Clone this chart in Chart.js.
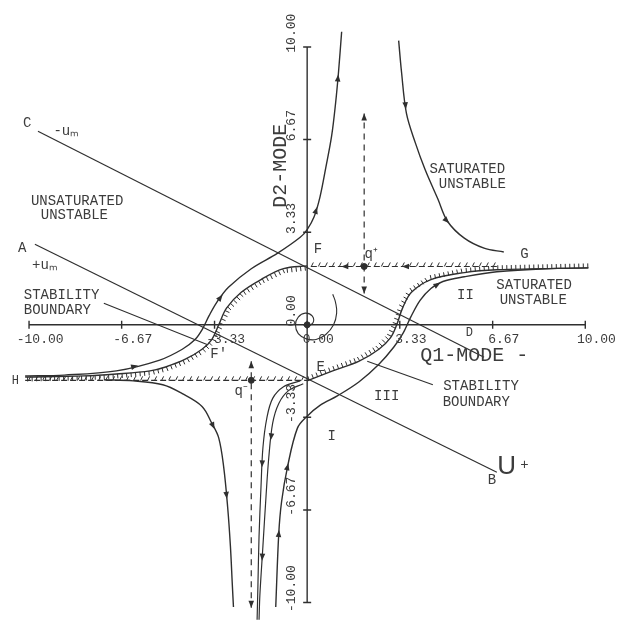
<!DOCTYPE html>
<html>
<head>
<meta charset="utf-8">
<script src="https://cdn.jsdelivr.net/npm/chart.js@4"></script>
<style>
  html, body { margin: 0; padding: 0; background: #fff; }
  #wrap { width: 626px; height: 631px; }
</style>
</head>
<body>
<div id="wrap"><canvas id="phase"></canvas></div>
<script>
// tick values and labels for both modes
const ticks = [-10, -6.67, -3.33, 0, 3.33, 6.67, 10];
const q1TickLabels = ["-10.00", "-6.67", "-3.33", "0.00", "3.33", "6.67", "10.00"];
const q2TickLabels = ["-10.00", "-6.67", "-3.33", "0.00", "3.33", "6.67", "10.00"];

// trajectories, each point is [q1, q2]
const sepUpper = [[-10.14, -1.84], [-8.73, -1.81], [-6.86, -1.66], [-5.30, -1.27], [-4.49, -0.88],
  [-4.03, -0.53], [-3.78, -0.18], [-3.53, 0.32], [-3.25, 0.81], [-2.83, 1.35], [-2.01, 2.02],
  [-1.06, 2.58], [-0.25, 3.15], [0, 3.43], [0.25, 3.89], [0.46, 4.60], [0.67, 5.66], [0.88, 6.80],
  [1.02, 7.96], [1.13, 9.13], [1.24, 10.55]];
const sepLower = [[-1.13, -10.16], [-1.02, -7.50], [-0.92, -6.37], [-0.71, -5.13], [-0.35, -3.72],
  [0, -3.29], [0.46, -2.90], [1.10, -2.55], [1.87, -2.05], [2.58, -1.42], [3.11, -0.81],
  [3.46, -0.28], [3.71, 0.25], [4.06, 0.88], [4.45, 1.31], [4.88, 1.56], [5.65, 1.73],
  [6.82, 1.91], [8.59, 2.02], [10.11, 2.05]];
const satUpper = [[3.29, 10.23], [3.39, 9.13], [3.57, 7.61], [3.89, 6.55], [4.24, 5.59],
  [4.70, 4.53], [5.05, 3.72], [5.65, 3.12], [6.36, 2.76], [7.07, 2.62]];
const satLower = [[-7.31, -1.98], [-6.25, -2.02], [-5.19, -2.16], [-4.49, -2.48], [-3.78, -2.94],
  [-3.43, -3.54], [-3.18, -4.07], [-3.00, -5.13], [-2.86, -6.55], [-2.76, -7.96], [-2.69, -9.38],
  [-2.65, -10.16]];
const trajA = [[-0.25, -2.02], [-0.85, -2.23], [-1.24, -2.65], [-1.45, -3.36], [-1.59, -4.42],
  [-1.66, -5.84], [-1.73, -7.61], [-1.77, -9.38], [-1.80, -10.62]];
const trajB = [[-0.14, -2.12], [-0.67, -2.37], [-1.02, -2.83], [-1.24, -3.54], [-1.38, -4.78],
  [-1.48, -6.19], [-1.59, -7.96], [-1.70, -9.73], [-1.73, -10.62]];
const spiral = [[0, -0.04], [0.21, 0.07], [0.18, 0.32], [-0.07, 0.42], [-0.32, 0.28], [-0.42, 0],
  [-0.32, -0.32], [-0.04, -0.50], [0.32, -0.53], [0.67, -0.35], [0.95, 0], [1.06, 0.42],
  [1.02, 0.81], [0.92, 1.10]];

// stability boundaries leaving the saddles F and E
const boundLeft = [[0, 2.12], [-0.85, 2.02], [-1.66, 1.63], [-2.37, 1.17], [-2.90, 0.60], [-3.18, 0],
  [-3.43, -0.53], [-3.78, -0.88], [-4.38, -1.24], [-5.09, -1.52], [-5.65, -1.66], [-6.86, -1.77],
  [-8.02, -1.84], [-10.14, -1.88]];
const boundRight = [[0, -2.02], [0.92, -1.66], [1.87, -1.31], [2.58, -0.88], [3.00, -0.46], [3.22, 0],
  [3.43, 0.60], [3.75, 1.17], [4.45, 1.63], [5.65, 1.88], [6.82, 1.98], [10.11, 2.05]];

// saturation lines, switching lines and equilibria
const satLineF = [[6.82, 2.1], [0, 2.1]];
const satLineH = [[-10.14, -2.0], [0, -2.0]];
const lineC = [[-9.68, 6.97], [6.36, -1.17]];
const lineA = [[-9.79, 2.90], [6.82, -5.31]];
const leaderLeft = [[-7.31, 0.78], [-3.60, -0.71]];
const leaderRight = [[2.16, -1.31], [4.52, -2.16]];
const qPlus = [[2.05, 1.13], [2.05, 7.61]];
const qMinus = [[-2.01, -1.31], [-2.01, -10.19]];
const equilibria = [[0, 0], [2.05, 2.1], [-2.01, -2.0]];

const INK = "#2f2f2f";
const TEXT = "#3c3c3c";

const xy = pts => pts.map(p => ({ x: p[0], y: p[1] }));
const curve = (pts, extra) => Object.assign({
  data: xy(pts), showLine: true, pointRadius: 0, borderColor: INK,
  borderWidth: 1.4, tension: 0.35, fill: false
}, extra || {});

const datasets = [
  // axes and their tick marks
  curve([[ticks[0], 0], [ticks[ticks.length - 1], 0]], { tension: 0 }),
  curve([[0, ticks[0]], [0, ticks[ticks.length - 1]]], { tension: 0 }),
  { data: ticks.map(t => ({ x: t, y: 0 })), pointStyle: "line", pointRadius: 4, pointRotation: 90,
    borderColor: INK, borderWidth: 1.4, showLine: false },
  { data: ticks.map(t => ({ x: 0, y: t })), pointStyle: "line", pointRadius: 4, pointRotation: 0,
    borderColor: INK, borderWidth: 1.4, showLine: false },

  curve(lineC, { tension: 0, borderWidth: 1.2 }),
  curve(lineA, { tension: 0, borderWidth: 1.2 }),
  curve(leaderLeft, { tension: 0, borderWidth: 1.1 }),
  curve(leaderRight, { tension: 0, borderWidth: 1.1 }),

  curve(sepUpper, { arrows: [[2, 0.5], [8, 0.5], [14, 0.5], [18, 0.9]] }),
  curve(sepLower, { arrows: [[1, 0.1], [3, 0.1], [14, 0.8]] }),
  curve(satUpper, { arrows: [[1, 0.9], [6, 0.1]] }),
  curve(satLower, { arrows: [[5, 0.4], [7, 0.8]] }),
  curve(trajA, { borderWidth: 1.2, arrows: [[4, 0.5]] }),
  curve(trajB, { borderWidth: 1.2, arrows: [[3, 0.5], [6, 0.3]] }),
  curve(spiral, { borderWidth: 1.1, tension: 0.45 }),

  curve(boundLeft, { hatch: { side: -1, step: 4.5, len: 4.5, slant: 0 } }),
  curve(boundRight, { hatch: { side: -1, step: 4.5, len: 4.5, slant: 0 } }),
  curve(satLineF, { tension: 0, borderDash: [6, 3], borderWidth: 1.2,
    hatch: { side: 1, step: 7, len: 4, slant: -2 }, arrows: [[0, 0.5], [0, 0.82]] }),
  curve(satLineH, { tension: 0, borderDash: [6, 3], borderWidth: 1.2,
    hatch: { side: -1, step: 7, len: 4, slant: 2 } }),

  curve(qPlus, { tension: 0, borderDash: [6, 5], borderWidth: 1.2, arrows: [[0, 1], [0, 0, true]] }),
  curve(qMinus, { tension: 0, borderDash: [6, 5], borderWidth: 1.2, arrows: [[0, 0, true], [0, 1]] }),

  { data: xy(equilibria), pointRadius: 3, pointStyle: "circle", backgroundColor: INK,
    borderColor: INK, showLine: false }
];

// text placed in q1/q2 units: [text, q1, q2, font]
const notes = [
  ["C", -10.07, 7.26, "lbl"], ["-uₘ", -8.66, 6.97, "lbl"],
  ["UNSATURATED", -8.27, 4.46, "lbl"], ["UNSTABLE", -8.37, 3.93, "lbl"],
  ["A", -10.25, 2.76, "lbl"], ["+uₘ", -9.43, 2.16, "lbl"],
  ["STABILITY", -8.83, 1.06, "lbl"], ["BOUNDARY", -8.98, 0.53, "lbl"],
  ["F", 0.39, 2.73, "lbl"], ["G", 7.81, 2.55, "lbl"],
  ["SATURATED", 5.76, 5.59, "lbl"], ["UNSTABLE", 5.94, 5.06, "lbl"],
  ["II", 5.69, 1.06, "lbl"],
  ["SATURATED", 8.16, 1.42, "lbl"], ["UNSTABLE", 8.13, 0.88, "lbl"],
  ["F'", -3.18, -1.06, "lbl"], ["E", 0.49, -1.52, "lbl"], ["D", 5.83, -0.28, "small"],
  ["III", 2.86, -2.58, "lbl"], ["I", 0.88, -4.0, "lbl"],
  ["STABILITY", 6.25, -2.23, "lbl"], ["BOUNDARY", 6.08, -2.80, "lbl"],
  ["B", 6.64, -5.59, "lbl"], ["U", 7.17, -5.13, "huge"], ["+", 7.81, -5.06, "lbl"],
  ["H", -10.49, -2.02, "small"],
  ["q⁺", 2.30, 2.55, "lbl"], ["q⁻", -2.37, -2.41, "lbl"],
  ["Q1-MODE -", 6.01, -1.13, "big"]
];
const fonts = {
  small: '12px "Liberation Mono"',
  tick: '13px "Liberation Mono"',
  lbl: '14px "Liberation Mono"',
  big: '20px "Liberation Mono"',
  huge: '26px "Liberation Sans"'
};

function hatchPath(ctx, pts, h) {
  let carry = h.step / 2;
  for (let i = 0; i < pts.length - 1; i++) {
    const a = pts[i], b = pts[i + 1];
    const dx = b.x - a.x, dy = b.y - a.y, L = Math.hypot(dx, dy);
    if (!L) continue;
    const ux = dx / L, uy = dy / L;
    const nx = -uy * h.side, ny = ux * h.side;
    let t = carry;
    while (t < L) {
      const px = a.x + ux * t, py = a.y + uy * t;
      ctx.moveTo(px, py);
      ctx.lineTo(px + nx * h.len + ux * h.slant, py + ny * h.len + uy * h.slant);
      t += h.step;
    }
    carry = t - L;
  }
}

function arrowHead(ctx, x, y, ux, uy) {
  const len = 7, half = 2.8;
  ctx.beginPath();
  ctx.moveTo(x, y);
  ctx.lineTo(x - ux * len - uy * half, y - uy * len + ux * half);
  ctx.lineTo(x - ux * len + uy * half, y - uy * len - ux * half);
  ctx.closePath();
  ctx.fill();
}

const decor = {
  id: "decor",
  afterDatasetsDraw(chart) {
    const { ctx } = chart;
    const sx = chart.scales.x, sy = chart.scales.y;
    ctx.save();
    ctx.strokeStyle = INK;
    ctx.fillStyle = INK;
    ctx.lineWidth = 1;
    chart.data.datasets.forEach((ds, i) => {
      const pts = chart.getDatasetMeta(i).data;
      if (ds.hatch) {
        ctx.beginPath();
        hatchPath(ctx, pts, ds.hatch);
        ctx.stroke();
      }
      (ds.arrows || []).forEach(([seg, t, back]) => {
        const a = pts[seg], b = pts[seg + 1];
        const dx = b.x - a.x, dy = b.y - a.y, L = Math.hypot(dx, dy);
        let ux = dx / L, uy = dy / L;
        if (back) { ux = -ux; uy = -uy; }
        arrowHead(ctx, a.x + dx * t, a.y + dy * t, ux, uy);
      });
    });

    ctx.fillStyle = TEXT;
    ctx.textAlign = "center";
    ctx.textBaseline = "middle";
    // q1 tick labels under the axis
    ctx.font = fonts.tick;
    ticks.forEach((t, k) => {
      ctx.fillText(q1TickLabels[k], sx.getPixelForValue(t + 0.4), sy.getPixelForValue(-0.53));
    });
    // q2 tick labels, turned to run up the axis
    ticks.forEach((t, k) => {
      ctx.save();
      ctx.translate(sx.getPixelForValue(-0.57), sy.getPixelForValue(t + 0.5));
      ctx.rotate(-Math.PI / 2);
      ctx.fillText(q2TickLabels[k], 0, 0);
      ctx.restore();
    });
    ctx.save();
    ctx.font = fonts.big;
    ctx.translate(sx.getPixelForValue(-0.95), sy.getPixelForValue(5.73));
    ctx.rotate(-Math.PI / 2);
    ctx.fillText("D2-MODE", 0, 0);
    ctx.restore();

    notes.forEach(([text, q1, q2, f]) => {
      ctx.font = fonts[f];
      ctx.fillText(text, sx.getPixelForValue(q1), sy.getPixelForValue(q2));
    });
    ctx.restore();
  }
};

new Chart(document.getElementById("phase"), {
  type: "scatter",
  data: { datasets },
  plugins: [decor],
  options: {
    responsive: true,
    maintainAspectRatio: false,
    animation: false,
    events: [],
    layout: { padding: 0 },
    plugins: { legend: { display: false }, tooltip: { enabled: false } },
    scales: {
      x: { type: "linear", min: -10.85, max: 11.27, display: false },
      y: { type: "linear", min: -10.83, max: 11.5, display: false }
    }
  }
});
</script>
</body>
</html>
